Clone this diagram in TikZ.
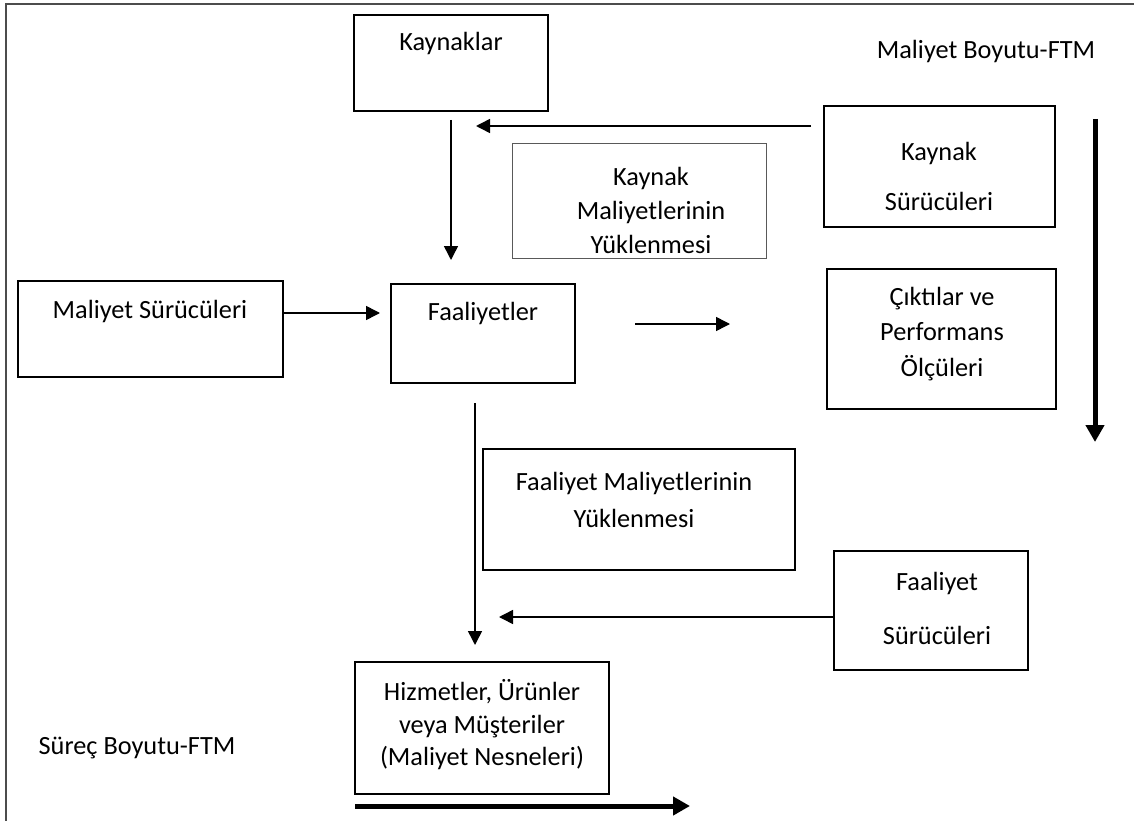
\documentclass[tikz,border=0pt]{standalone}
\usepackage{fontspec}
\setmainfont{Carlito}
\usetikzlibrary{arrows.meta,calc}
\begin{document}
\begin{tikzpicture}[x=1pt,y=-1pt,
  box/.style={draw=black, line width=1.6pt, inner sep=0pt, fill=none},
  thinbox/.style={draw=black!65, line width=1pt, inner sep=0pt},
  lbl/.style={font=\fontsize{26.3}{#1}\selectfont, align=center, inner sep=0pt, text=black},
  lbl/.default=32,
  arr/.style={line width=1.5pt, -{Triangle[length=14pt,width=14pt]}},
  bigarr/.style={line width=5pt, -{Triangle[length=17pt,width=18pt]}}]
\useasboundingbox (0,0) rectangle (1134,821);
\clip (0,0) rectangle (1134,821);
\fill[white] (0,0) rectangle (1134,821);
% frame
\draw[black!70, line width=2pt] (6,4) rectangle (1150,840);

% boxes
\node[box, minimum width=194pt, minimum height=96pt] (kay) at (451,63) {};
\node[box, minimum width=231pt, minimum height=121pt] (ksur) at (939.5,166.5) {};
\node[thinbox, minimum width=254pt, minimum height=114pt] (kmy) at (639,201) {};
\node[box, minimum width=265pt, minimum height=96pt] (msur) at (150.5,329) {};
\node[box, minimum width=184pt, minimum height=99pt] (faal) at (483,333.5) {};
\node[box, minimum width=229pt, minimum height=140pt] (cikti) at (941.5,339) {};
\node[box, minimum width=312pt, minimum height=121pt] (fmy) at (639,509.5) {};
\node[box, minimum width=194pt, minimum height=119pt] (fsur) at (931,610.5) {};
\node[box, minimum width=254pt, minimum height=132pt] (hiz) at (482,728) {};

% texts
\node[lbl] (tkay) at (451,43) {Kaynaklar};
\node[lbl] (tmb) at (986,51) {Maliyet Boyutu-FTM};
\node[lbl=50] (tksur) at (939,176) {Kaynak\\Sürücüleri};
\node[lbl=34] (tkmy) at (651,210) {Kaynak\\Maliyetlerinin\\Yüklenmesi};
\node[lbl] (tmsur) at (150,311) {Maliyet Sürücüleri};
\node[lbl] (tfaal) at (483,313) {Faaliyetler};
\node[lbl=35.5] (tcikti) at (942,334) {Çıktılar ve\\Performans\\Ölçüleri};
\node[lbl=37] (tfmy) at (634,500) {Faaliyet Maliyetlerinin\\Yüklenmesi};
\node[lbl=54] (tfsur) at (937,608) {Faaliyet\\Sürücüleri};
\node[lbl=32.5] (thiz) at (482,725) {Hizmetler, Ürünler\\veya Müşteriler\\(Maliyet Nesneleri)};
\node[lbl] (tsb) at (137,748) {Süreç Boyutu-FTM};

% connector end points
\coordinate (a1s) at (811,126);
\coordinate (a1e) at (476,126);
\coordinate (a2s) at (451,120);
\coordinate (a2e) at (451,260);
\coordinate (a3s) at (msur.east |- 0,313);
\coordinate (a3e) at (380,313);
\coordinate (a4s) at (635,324);
\coordinate (a4e) at (730,324);
\coordinate (b1s) at (1095,119);
\coordinate (b1e) at (1095,442);
\coordinate (a5s) at (475,403);
\coordinate (a5e) at (475,645);
\coordinate (a6s) at (fsur.west |- 0,617);
\coordinate (a6e) at (499,617);
\coordinate (b2s) at (355,806);
\coordinate (b2e) at (690,806);

% connectors
\draw[arr] (a1s) -- (a1e);
\draw[arr] (a2s) -- (a2e);
\draw[arr] (a3s) -- (a3e);
\draw[arr] (a4s) -- (a4e);
\draw[bigarr] (b1s) -- (b1e);
\draw[arr] (a5s) -- (a5e);
\draw[arr] (a6s) -- (a6e);
\draw[bigarr] (b2s) -- (b2e);
\end{tikzpicture}
\end{document}
